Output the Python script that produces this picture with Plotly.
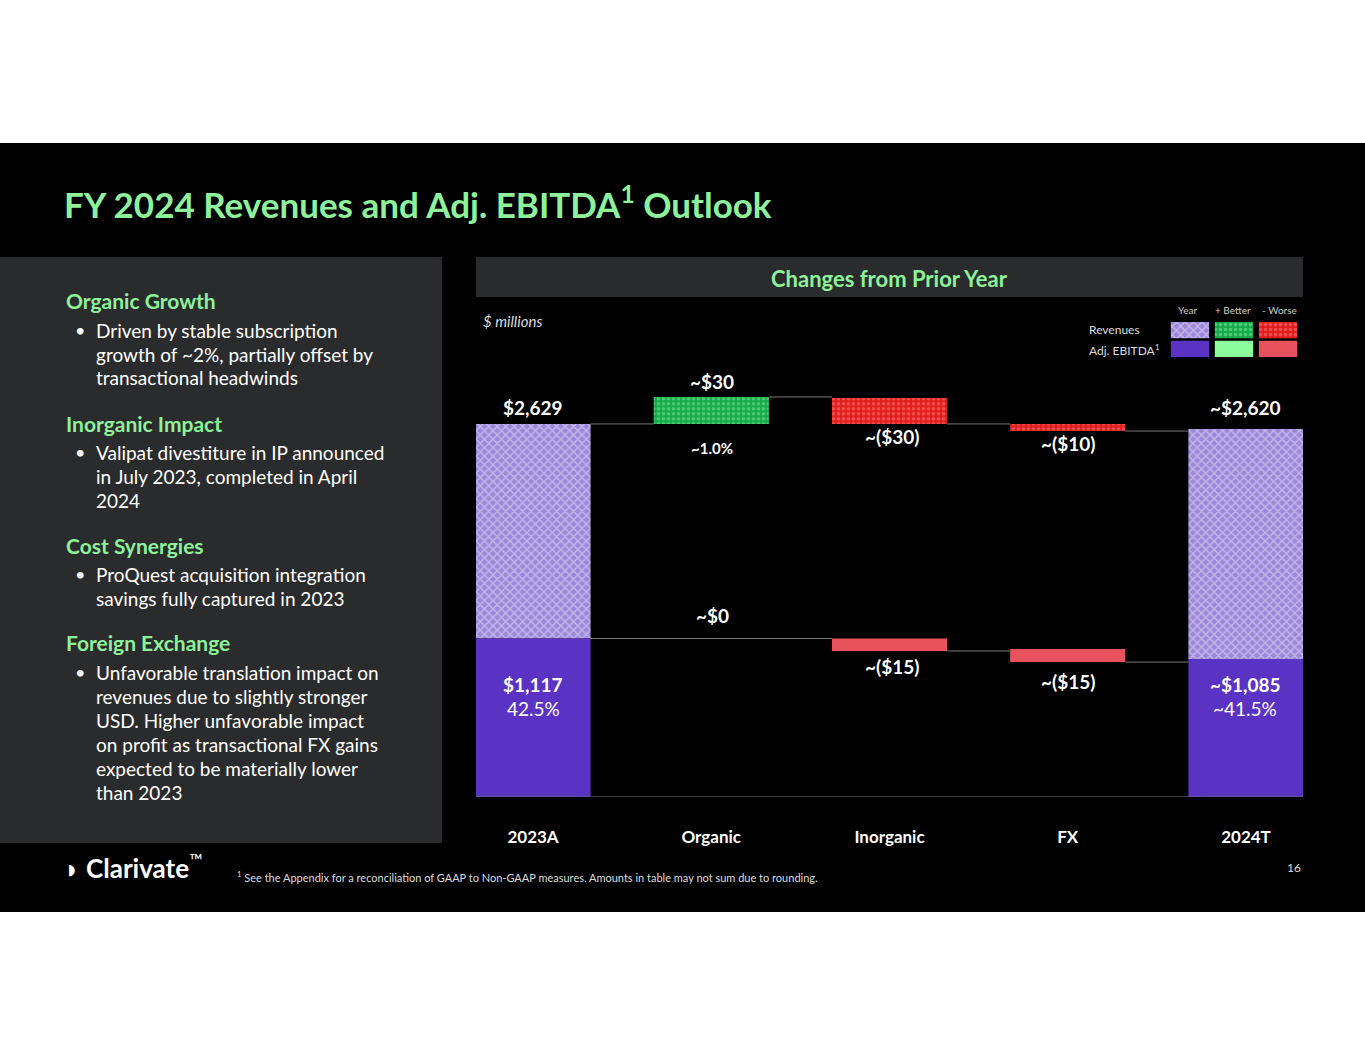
import plotly.graph_objects as go

W, H = 1365, 1055
categories = ["2023A", "Organic", "Inorganic", "FX", "2024T"]
# bar extents as drawn on the slide ($ millions, visual scale)
rev_base = [1117, 2629, 2629, 2579, 972]
rev_top = [2629, 2819, 2812, 2629, 2593]
ebitda_base = [0, None, 1029, 951, 0]
ebitda_top = [1117, None, 1117, 1043, 972]
rev_labels = ["$2,629", "~$30", "~($30)", "~($10)", "~$2,620"]
ebitda_labels = ["$1,117", "~$0", "~($15)", "~($15)", "~$1,085"]
margins = ["42.5%", "~1.0%", "", "", "~41.5%"]

GREEN_T = "#8ef29a"
PURPLE = "#5b33c4"
LGREEN = "#8dfc9c"
PINK = "#e8525c"
FONT = "Lato"

def px(x): return x / W
def py(y): return 1 - y / H

Y0, K = 797, 0.1419  # baseline pixel, px per unit
YMAX = 3000
ytop_px = Y0 - YMAX * K

fig = go.Figure()
pat_year = dict(shape="x", fgcolor="#ece4ff", bgcolor="#9c88d8", size=6, solidity=0.4)
pat_good = dict(shape=".", fgcolor="#7cf0a0", bgcolor="#17a94a", size=5, solidity=0.4)
pat_bad = dict(shape=".", fgcolor="#ff8080", bgcolor="#e01d1d", size=5, solidity=0.4)
rev_pats = [pat_year, pat_good, pat_bad, pat_bad, pat_year]
eb_cols = [PURPLE, LGREEN, PINK, PINK, PURPLE]

for i in range(5):
    fig.add_bar(x=[i], y=[rev_top[i] - rev_base[i]], base=[rev_base[i]], width=0.646,
                marker=dict(color=rev_pats[i]["bgcolor"], pattern=rev_pats[i], line_width=0),
                showlegend=False, hoverinfo="skip")
    if ebitda_top[i] is not None:
        fig.add_bar(x=[i], y=[ebitda_top[i] - ebitda_base[i]], base=[ebitda_base[i]], width=0.646,
                    marker=dict(color=eb_cols[i], line_width=0), showlegend=False, hoverinfo="skip")

# connectors
conn = [(0.323, 0.677, 2629), (1.323, 1.677, 2819), (2.323, 2.677, 2629), (3.323, 3.677, 2579),
        (0.323, 1.677, 1117), (2.323, 2.677, 1029), (3.323, 3.677, 951)]
shapes = []
for x0, x1, y in conn:
    shapes.append(dict(type="line", xref="x", yref="y", x0=x0, x1=x1, y0=y, y1=y,
                       line=dict(color="#777", width=1)))
shapes.append(dict(type="line", xref="x", yref="y", x0=-0.32, x1=4.32, y0=0, y1=0,
                   line=dict(color="#777", width=1)))

def rect(x0, y0, x1, y1, c):
    shapes.append(dict(type="rect", xref="paper", yref="paper", x0=px(x0), x1=px(x1),
                       y0=py(y1), y1=py(y0), fillcolor=c, line_width=0, layer="below"))
rect(0, 143, W, 912, "#000000")
rect(0, 257, 442, 843, "#2a2b2d")
rect(476, 257, 1303, 297, "#2a2b2d")

ann = []
def T(x, y, s, size, color="white", bold=False, xa="left", italic=False):
    txt = f"<b>{s}</b>" if bold else s
    if italic: txt = f"<i>{txt}</i>"
    ann.append(dict(xref="paper", yref="paper", x=px(x), y=py(y), text=txt, showarrow=False,
                    xanchor=xa, yanchor="middle", font=dict(family=FONT, size=size, color=color)))

T(62, 202, "FY 2024 Revenues and Adj. EBITDA<sup>1</sup> Outlook", 35, GREEN_T, True)
T(889, 278, "Changes from Prior Year", 22, GREEN_T, True, "center")

left = [
    ("h", 300, "Organic Growth"),
    ("b", 330, "Driven by stable subscription"), ("c", 354, "growth of ~2%, partially offset by"),
    ("c", 378, "transactional headwinds"),
    ("h", 423, "Inorganic Impact"),
    ("b", 452, "Valipat divestiture in IP announced"), ("c", 476, "in July 2023, completed in April"),
    ("c", 500, "2024"),
    ("h", 545, "Cost Synergies"),
    ("b", 574, "ProQuest acquisition integration"), ("c", 598, "savings fully captured in 2023"),
    ("h", 642, "Foreign Exchange"),
    ("b", 672, "Unfavorable translation impact on"), ("c", 696, "revenues due to slightly stronger"),
    ("c", 720, "USD. Higher unfavorable impact"), ("c", 744, "on profit as transactional FX gains"),
    ("c", 768, "expected to be materially lower"), ("c", 792, "than 2023"),
]
for kind, y, s in left:
    if kind == "h":
        T(64, y, s, 21, GREEN_T, True)
    else:
        if kind == "b":
            T(73, y, "•", 18)
        T(94, y, s, 19)

# chart labels
cx = [533, 712, 892, 1068, 1245]
T(cx[0], 407, rev_labels[0], 19, bold=True, xa="center")
T(cx[1], 382, rev_labels[1], 19, bold=True, xa="center")
T(cx[1], 448, margins[1], 15, bold=True, xa="center")
T(cx[2], 437, rev_labels[2], 19, bold=True, xa="center")
T(cx[3], 443, rev_labels[3], 19, bold=True, xa="center")
T(cx[4], 407, rev_labels[4], 19, bold=True, xa="center")
T(cx[1], 615, ebitda_labels[1], 19, bold=True, xa="center")
T(cx[2], 666, ebitda_labels[2], 19, bold=True, xa="center")
T(cx[3], 681, ebitda_labels[3], 19, bold=True, xa="center")
T(cx[0], 684, ebitda_labels[0], 19, bold=True, xa="center")
T(cx[0], 708, margins[0], 19, xa="center")
T(cx[4], 684, ebitda_labels[4], 19, bold=True, xa="center")
T(cx[4], 708, margins[4], 19, xa="center")
T(481, 321, "$ millions", 15, "#dddddd", italic=True)

# legend
T(1187, 310, "Year", 10, "#cccccc", xa="center")
T(1233, 310, "+ Better", 10, "#cccccc", xa="center")
T(1279, 310, "- Worse", 10, "#cccccc", xa="center")
T(1087, 329, "Revenues", 12, "#dddddd")
T(1087, 350, "Adj. EBITDA<sup>1</sup>", 12, "#dddddd")
leg_x = [0, 1, 2]
leg_pats = [pat_year, pat_good, pat_bad]
leg_cols = [PURPLE, LGREEN, PINK]
for i in leg_x:
    fig.add_bar(x=[i], y=[1], base=[1.15], width=0.87, xaxis="x2", yaxis="y2",
                marker=dict(color=leg_pats[i]["bgcolor"], pattern=leg_pats[i], line_width=0),
                showlegend=False, hoverinfo="skip")
    fig.add_bar(x=[i], y=[1], base=[0], width=0.87, xaxis="x2", yaxis="y2",
                marker=dict(color=leg_cols[i], line_width=0), showlegend=False, hoverinfo="skip")

# footer
T(62, 866, "<b>◗ Clarivate</b><sup>™</sup>", 26)
T(235, 876, "<sup>1</sup> See the Appendix for a reconciliation of GAAP to Non-GAAP measures. Amounts in table may not sum due to rounding.", 11, "#dddddd")
T(1303, 867, "16", 12, "#dddddd", xa="right")

fig.update_layout(
    width=W, height=H, margin=dict(l=0, r=0, t=0, b=0),
    paper_bgcolor="white", plot_bgcolor="rgba(0,0,0,0)", barmode="overlay",
    shapes=shapes, annotations=ann,
    xaxis=dict(domain=[px(476), px(1303)], range=[-0.32, 4.32], tickvals=list(range(5)),
               ticktext=[f"<b>{c}</b>" for c in categories], showgrid=False, zeroline=False,
               showline=False, ticks="", tickfont=dict(family=FONT, size=17, color="white"),
               ticklabelstandoff=28),
    yaxis=dict(domain=[py(Y0), py(ytop_px)], range=[0, YMAX], visible=False),
    xaxis2=dict(domain=[px(1168), px(1300)], range=[-0.5, 2.5], visible=False, anchor="y2"),
    yaxis2=dict(domain=[py(357), py(322)], range=[0, 2.15], visible=False, anchor="x2"),
)
fig.write_html("out.html", config={"displayModeBar": False},
               post_script="document.body.style.margin='0';document.body.style.overflow='hidden';")
